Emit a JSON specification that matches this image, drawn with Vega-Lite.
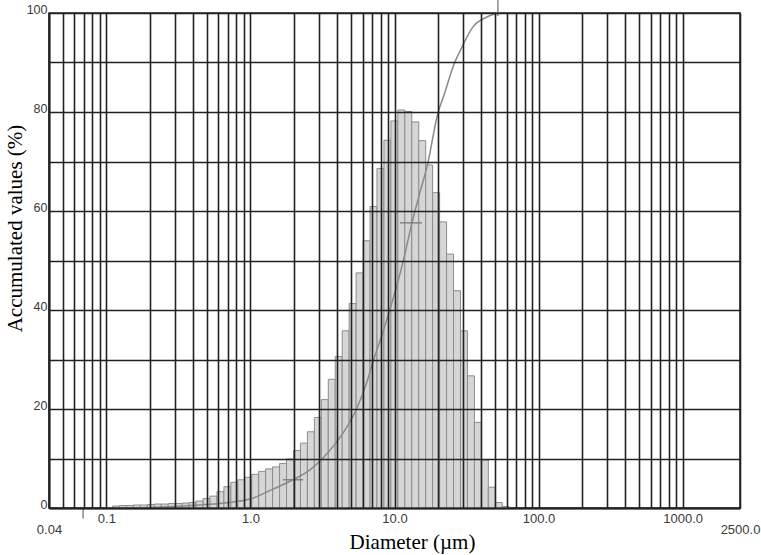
{
  "$schema": "https://vega.github.io/schema/vega-lite/v6.json",
  "width": 691,
  "height": 495,
  "autosize": {"type": "none"},
  "padding": {"left": 49, "top": 13, "right": 21, "bottom": 47},
  "background": "white",
  "config": {"view": {"stroke": "#222", "strokeWidth": 1.6}},
  "datasets": {
    "bars": [
      {"l": 0.1104, "r": 0.1234, "v": 0.4},
      {"l": 0.1234, "r": 0.1379, "v": 0.5},
      {"l": 0.1379, "r": 0.1542, "v": 0.5},
      {"l": 0.1542, "r": 0.1723, "v": 0.6},
      {"l": 0.1723, "r": 0.1926, "v": 0.6},
      {"l": 0.1926, "r": 0.2153, "v": 0.7},
      {"l": 0.2153, "r": 0.2406, "v": 0.8},
      {"l": 0.2406, "r": 0.2689, "v": 0.8},
      {"l": 0.2689, "r": 0.3005, "v": 0.9},
      {"l": 0.3005, "r": 0.3359, "v": 0.9},
      {"l": 0.3359, "r": 0.3754, "v": 1.0},
      {"l": 0.3754, "r": 0.4196, "v": 1.1},
      {"l": 0.4196, "r": 0.4690, "v": 1.4},
      {"l": 0.4690, "r": 0.5241, "v": 1.9},
      {"l": 0.5241, "r": 0.5858, "v": 2.4},
      {"l": 0.5858, "r": 0.6547, "v": 3.3},
      {"l": 0.6547, "r": 0.7317, "v": 4.3},
      {"l": 0.7317, "r": 0.8178, "v": 5.2},
      {"l": 0.8178, "r": 0.9139, "v": 5.7},
      {"l": 0.9139, "r": 1.0213, "v": 6.2},
      {"l": 1.0213, "r": 1.1414, "v": 6.8},
      {"l": 1.1414, "r": 1.2757, "v": 7.4},
      {"l": 1.2757, "r": 1.4257, "v": 7.9},
      {"l": 1.4257, "r": 1.5934, "v": 8.3},
      {"l": 1.5934, "r": 1.7808, "v": 9.0},
      {"l": 1.7808, "r": 1.9903, "v": 9.9},
      {"l": 1.9903, "r": 2.2244, "v": 11.6},
      {"l": 2.2244, "r": 2.4860, "v": 13.1},
      {"l": 2.4860, "r": 2.7784, "v": 15.4},
      {"l": 2.7784, "r": 3.1052, "v": 18.3},
      {"l": 3.1052, "r": 3.4704, "v": 21.9},
      {"l": 3.4704, "r": 3.8786, "v": 26.0},
      {"l": 3.8786, "r": 4.3348, "v": 30.6},
      {"l": 4.3348, "r": 4.8447, "v": 35.8},
      {"l": 4.8447, "r": 5.4145, "v": 41.3},
      {"l": 5.4145, "r": 6.0514, "v": 47.5},
      {"l": 6.0514, "r": 6.7632, "v": 54.0},
      {"l": 6.7632, "r": 7.5587, "v": 60.9},
      {"l": 7.5587, "r": 8.4478, "v": 68.6},
      {"l": 8.4478, "r": 9.4415, "v": 74.3},
      {"l": 9.4415, "r": 10.552, "v": 78.2},
      {"l": 10.552, "r": 11.793, "v": 80.4},
      {"l": 11.793, "r": 13.180, "v": 80.1},
      {"l": 13.180, "r": 14.731, "v": 78.0},
      {"l": 14.731, "r": 16.463, "v": 74.2},
      {"l": 16.463, "r": 18.400, "v": 69.3},
      {"l": 18.400, "r": 20.564, "v": 63.7},
      {"l": 20.564, "r": 22.983, "v": 57.8},
      {"l": 22.983, "r": 25.687, "v": 51.3},
      {"l": 25.687, "r": 28.708, "v": 43.9},
      {"l": 28.708, "r": 32.085, "v": 35.8},
      {"l": 32.085, "r": 35.860, "v": 26.7},
      {"l": 35.860, "r": 40.078, "v": 17.3},
      {"l": 40.078, "r": 44.792, "v": 9.7},
      {"l": 44.792, "r": 50.061, "v": 4.2},
      {"l": 50.061, "r": 55.950, "v": 1.1},
      {"l": 55.950, "r": 62.531, "v": 0.3}
    ],
    "curve": [
      {"d": 0.101, "c": 0.0},
      {"d": 0.201, "c": 0.1},
      {"d": 0.446, "c": 0.6},
      {"d": 0.757, "c": 1.2},
      {"d": 0.993, "c": 1.8},
      {"d": 1.434, "c": 3.8},
      {"d": 1.974, "c": 5.7},
      {"d": 2.59, "c": 7.7},
      {"d": 3.19, "c": 10.1},
      {"d": 3.86, "c": 12.9},
      {"d": 4.68, "c": 16.4},
      {"d": 5.49, "c": 20.2},
      {"d": 6.44, "c": 25.5},
      {"d": 7.09, "c": 29.5},
      {"d": 8.32, "c": 35.6},
      {"d": 9.76, "c": 42.2},
      {"d": 11.45, "c": 49.7},
      {"d": 13.22, "c": 57.6},
      {"d": 15.02, "c": 63.8},
      {"d": 16.80, "c": 68.9},
      {"d": 20.03, "c": 79.8},
      {"d": 22.40, "c": 84.0},
      {"d": 25.46, "c": 89.1},
      {"d": 29.38, "c": 93.1},
      {"d": 35.04, "c": 97.2},
      {"d": 43.8, "c": 99.2},
      {"d": 52.2, "c": 100.0}
    ],
    "markers": [
      {"x": 1.68, "x2": 2.32, "y": 5.7, "y2": 5.7},
      {"x": 10.91, "x2": 15.51, "y": 57.6, "y2": 57.6},
      {"x": 52.2, "x2": 52.2, "y": 99.4, "y2": 102.8},
      {"x": 0.069, "x2": 0.069, "y": 0, "y2": -2.1}
    ]
  },
  "layer": [
    {
      "data": {"name": "bars"},
      "mark": {"type": "rect", "fill": "#d6d6d6", "stroke": "#8c8c8c", "strokeWidth": 1},
      "encoding": {
        "x": {
          "field": "l", "type": "quantitative",
          "scale": {"type": "log", "domain": [0.04, 2500], "nice": false, "zero": false},
          "axis": {
            "values": [0.04, 0.05, 0.06, 0.07, 0.08, 0.09, 0.1, 0.2, 0.3, 0.4, 0.5, 0.6, 0.7, 0.8, 0.9, 1, 2, 3, 4, 5, 6, 7, 8, 9, 10, 20, 30, 40, 50, 60, 70, 80, 90, 100, 200, 300, 400, 500, 600, 700, 800, 900, 1000, 2500],
            "labelExpr": "datum.value == 0.04 ? '0.04' : datum.value == 0.1 ? '0.1' : (datum.value == 1 || datum.value == 10 || datum.value == 100 || datum.value == 1000 || datum.value == 2500) ? format(datum.value, '.1f') : ''",
            "labelPadding": {"condition": {"test": "datum.value == 0.04 || datum.value == 2500", "value": 15}, "value": 4},
            "labelFlush": false,
            "labelOverlap": false,
            "labelFont": "Liberation Sans",
            "labelFontSize": 13,
            "labelColor": "#3a3a3a",
            "ticks": false,
            "grid": true,
            "gridColor": "#222",
            "gridWidth": 1.6,
            "domainColor": "#222",
            "domainWidth": 1.8,
            "zindex": 1,
            "title": "Diameter (µm)",
            "titleFont": "Liberation Serif",
            "titleFontSize": 21,
            "titleFontWeight": "normal",
            "titleColor": "#000",
            "titleX": 363,
            "titleY": 40,
            "titleAlign": "center",
            "titleBaseline": "alphabetic"
          }
        },
        "x2": {"field": "r"},
        "y": {
          "field": "v", "type": "quantitative",
          "scale": {"domain": [0, 100], "nice": false},
          "axis": {
            "values": [0, 10, 20, 30, 40, 50, 60, 70, 80, 90, 100],
            "labelExpr": "datum.value % 20 == 0 ? datum.label : ''",
            "labelBaseline": "alphabetic",
            "labelPadding": 2,
            "labelFont": "Liberation Sans",
            "labelFontSize": 12.5,
            "labelColor": "#3a3a3a",
            "labelOverlap": false,
            "ticks": false,
            "grid": true,
            "gridColor": "#222",
            "gridWidth": 1.6,
            "domainColor": "#222",
            "domainWidth": 1.8,
            "zindex": 1,
            "title": "Accumulated values (%)",
            "titleFont": "Liberation Serif",
            "titleFontSize": 21,
            "titleFontWeight": "normal",
            "titleColor": "#000",
            "titleX": -28,
            "titleY": 215,
            "titleAlign": "center",
            "titleBaseline": "alphabetic"
          }
        },
        "y2": {"datum": 0}
      }
    },
    {
      "data": {"name": "curve"},
      "mark": {"type": "line", "color": "#8a8a8a", "strokeWidth": 1.5, "interpolate": "monotone"},
      "encoding": {
        "x": {"field": "d", "type": "quantitative"},
        "y": {"field": "c", "type": "quantitative"}
      }
    },
    {
      "data": {"name": "markers"},
      "mark": {"type": "rule", "color": "#777", "strokeWidth": 1.3},
      "encoding": {
        "x": {"field": "x", "type": "quantitative"},
        "x2": {"field": "x2"},
        "y": {"field": "y", "type": "quantitative"},
        "y2": {"field": "y2"}
      }
    }
  ]
}
